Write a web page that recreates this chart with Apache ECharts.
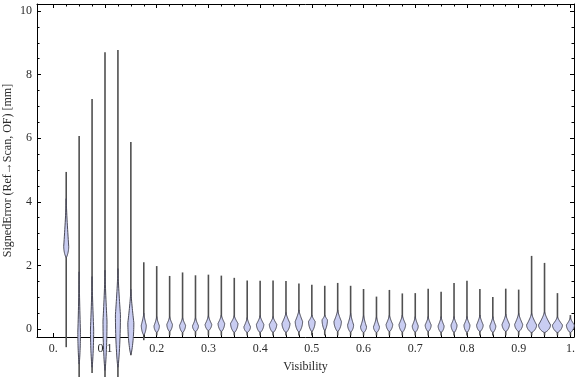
<!DOCTYPE html>
<html>
<head>
<meta charset="utf-8">
<script src="https://cdn.jsdelivr.net/npm/echarts@6/dist/echarts.min.js"></script>
<style>
html, body { margin: 0; padding: 0; background: #fff; }
#graph { width: 576px; height: 377px; }
</style>
</head>
<body>
<div id="graph"></div>
<script>
// visibility bins (x positions of the violins)
var visibility = [0.025, 0.05, 0.075, 0.1, 0.125, 0.15, 0.175, 0.2, 0.225, 0.25,
    0.275, 0.3, 0.325, 0.35, 0.375, 0.4, 0.425, 0.45, 0.475, 0.5,
    0.525, 0.55, 0.575, 0.6, 0.625, 0.65, 0.675, 0.7, 0.725, 0.75,
    0.775, 0.8, 0.825, 0.85, 0.875, 0.9, 0.925, 0.95, 0.975, 1.0];
// whisker ends (min / max of signed error)
var errMin = [-0.57, -1.55, -1.38, -1.6, -1.6, -0.82, -0.35, -0.2, -0.2, -0.2,
    -0.2, -0.2, -0.2, -0.2, -0.2, -0.2, -0.2, -0.2, -0.2, -0.2,
    -0.2, -0.2, -0.2, -0.2, -0.2, -0.2, -0.2, -0.2, -0.2, -0.2,
    -0.2, -0.2, -0.2, -0.2, -0.2, -0.2, -0.2, -0.2, -0.2, -0.2];
var errMax = [4.94, 6.07, 7.23, 8.7, 8.77, 5.88, 2.1, 1.98, 1.67, 1.78,
    1.69, 1.71, 1.68, 1.61, 1.53, 1.52, 1.53, 1.51, 1.43, 1.39,
    1.36, 1.45, 1.36, 1.26, 1.02, 1.23, 1.12, 1.13, 1.27, 1.17,
    1.45, 1.52, 1.26, 1.01, 1.27, 1.24, 2.3, 2.08, 1.13, 0.44];
// violin body: lower end, mode (widest), upper end, peak density
var bodyLow = [2.25, -1.1, -1.2, -1.3, -1.2, -0.8, -0.19, -0.11, -0.08, -0.11,
    -0.08, -0.05, -0.08, -0.11, -0.11, -0.11, -0.11, -0.11, -0.1, -0.08,
    -0.05, -0.08, -0.1, -0.11, -0.11, -0.08, -0.1, -0.1, -0.08, -0.11,
    -0.11, -0.11, -0.08, -0.11, -0.08, -0.08, -0.11, -0.11, -0.11, -0.11];
var bodyMode = [2.6, -0.1, 0.0, 0.25, 0.45, 0.2, 0.12, 0.1, 0.15, 0.12,
    0.1, 0.15, 0.18, 0.18, 0.07, 0.15, 0.15, 0.18, 0.24, 0.24,
    0.29, 0.24, 0.13, 0.07, 0.07, 0.15, 0.15, 0.1, 0.13, 0.1,
    0.13, 0.13, 0.13, 0.1, 0.15, 0.15, 0.13, 0.13, 0.13, 0.13];
var bodyHigh = [4.1, 1.8, 1.65, 1.85, 1.9, 1.25, 0.5, 0.39, 0.39, 0.36,
    0.36, 0.42, 0.44, 0.42, 0.36, 0.42, 0.39, 0.52, 0.6, 0.44,
    0.44, 0.6, 0.5, 0.44, 0.39, 0.44, 0.44, 0.39, 0.39, 0.39,
    0.39, 0.39, 0.44, 0.39, 0.47, 0.5, 0.5, 0.55, 0.39, 0.36];
var peakDensity = [2.5, 1.3, 1.6, 2, 2.5, 3, 2.5, 2.7, 2.8, 3,
    3, 3.3, 3.3, 3.7, 3.3, 3.7, 3.7, 4, 3.7, 3.3,
    2.7, 3.7, 3, 3, 3, 3.3, 3.3, 3, 3, 3,
    3, 3, 3.3, 3, 3.7, 4, 5, 6, 5, 4];

var xMajor = [0, 0.1, 0.2, 0.3, 0.4, 0.5, 0.6, 0.7, 0.8, 0.9, 1];
var xMinor = [0.025, 0.05, 0.075, 0.125, 0.15, 0.175, 0.225, 0.25, 0.275, 0.325, 0.35, 0.375,
    0.425, 0.45, 0.475, 0.525, 0.55, 0.575, 0.625, 0.65, 0.675, 0.725, 0.75, 0.775,
    0.825, 0.85, 0.875, 0.925, 0.95, 0.975];
var xLabels = ['0.', '0.1', '0.2', '0.3', '0.4', '0.5', '0.6', '0.7', '0.8', '0.9', '1.'];
var yMajor = [0, 2, 4, 6, 8, 10];
var yMinor = [0.5, 1, 1.5, 2.5, 3, 3.5, 4.5, 5, 5.5, 6.5, 7, 7.5, 8.5, 9, 9.5];

var X_MIN = -0.0315, X_MAX = 1.007, Y_MIN = -0.25, Y_MAX = 10.22;
var PX_PER_DENSITY = 1;

var rows = visibility.map(function (v, i) {
    return [v, errMin[i], errMax[i], bodyLow[i], bodyMode[i], bodyHigh[i], peakDensity[i]];
});

var dom = document.getElementById('graph');
var myChart = echarts.init(dom);
var font = 'Liberation Serif';
var ink = '#2b2b2b';

function renderViolin(params, api) {
    var x = api.value(0);
    var lo = api.value(1), hi = api.value(2);
    var bLo = api.value(3), mode = api.value(4), bHi = api.value(5);
    var w = api.value(6) * PX_PER_DENSITY;
    var p0 = api.coord([x, lo]), p1 = api.coord([x, hi]);
    var cx = p0[0];
    var right = [], left = [];
    var n = 14, i, t, v, hw, c;
    for (i = 0; i <= n; i++) {
        t = i / n;
        v = bLo + (mode - bLo) * t;
        hw = w * Math.pow(Math.sin(t * Math.PI / 2), 0.7);
        c = api.coord([x, v]);
        right.push([cx + hw, c[1]]);
        left.push([cx - hw, c[1]]);
    }
    for (i = 1; i <= n; i++) {
        t = i / n;
        v = mode + (bHi - mode) * t;
        hw = w * Math.pow(1 - t, 1.3);
        c = api.coord([x, v]);
        right.push([cx + hw, c[1]]);
        left.push([cx - hw, c[1]]);
    }
    var pts = right.concat(left.reverse());
    return {
        type: 'group',
        children: [{
            type: 'line',
            shape: { x1: cx, y1: p0[1], x2: cx, y2: p1[1] },
            style: { stroke: '#505050', lineWidth: 1.6 }
        }, {
            type: 'polygon',
            shape: { points: pts, smooth: 0 },
            style: { fill: '#c9cdf2', stroke: '#4a4a58', lineWidth: 1 }
        }]
    };
}

function xAx(pos, values, len, showLine, showLabel) {
    return {
        type: 'value', position: pos, min: X_MIN, max: X_MAX,
        name: (pos === 'bottom' && showLabel) ? 'Visibility' : '',
        nameLocation: 'middle', nameGap: 24, nameMoveOverlap: false,
        nameTextStyle: { fontFamily: font, fontSize: 12, color: ink },
        axisLine: { show: showLine, onZero: false, lineStyle: { color: '#000', width: 1 } },
        axisTick: { show: true, inside: true, length: len, customValues: values, lineStyle: { color: '#000' } },
        axisLabel: {
            show: showLabel, customValues: values, margin: 6,
            fontFamily: font, fontSize: 12, color: ink,
            formatter: function (val) { return xLabels[Math.round(val * 10)]; }
        },
        splitLine: { show: false }
    };
}

function yAx(pos, values, len, showLine, showLabel) {
    return {
        type: 'value', position: pos, min: Y_MIN, max: Y_MAX,
        name: (pos === 'left' && showLabel) ? 'SignedError (Ref\u2192Scan, OF) [mm]' : '',
        nameLocation: 'middle', nameGap: 23, nameMoveOverlap: false,
        nameTextStyle: { fontFamily: font, fontSize: 12, color: ink },
        axisLine: { show: showLine, onZero: false, lineStyle: { color: '#000', width: 1 } },
        axisTick: { show: true, inside: true, length: len, customValues: values, lineStyle: { color: '#000' } },
        axisLabel: {
            show: showLabel, customValues: values, margin: 5,
            fontFamily: font, fontSize: 12, color: ink
        },
        splitLine: { show: false }
    };
}

option = {
    animation: false,
    backgroundColor: '#fff',
    grid: { left: 37, right: 2, top: 4, bottom: 40, containLabel: false, outerBoundsMode: 'none' },
    xAxis: [
        xAx('bottom', xMajor, 4, true, true),
        xAx('bottom', xMinor, 2.5, false, false),
        xAx('top', xMajor, 4, true, false),
        xAx('top', xMinor, 2.5, false, false)
    ],
    yAxis: [
        yAx('left', yMajor, 4, true, true),
        yAx('left', yMinor, 2.5, false, false),
        yAx('right', yMajor, 4, true, false),
        yAx('right', yMinor, 2.5, false, false)
    ],
    series: [{
        type: 'custom',
        xAxisIndex: 0,
        yAxisIndex: 0,
        clip: false,
        renderItem: renderViolin,
        encode: { x: 0, y: [1, 2] },
        data: rows
    }]
};
if (option && typeof option === "object") {
    myChart.setOption(option, true);
}
</script>
</body>
</html>
